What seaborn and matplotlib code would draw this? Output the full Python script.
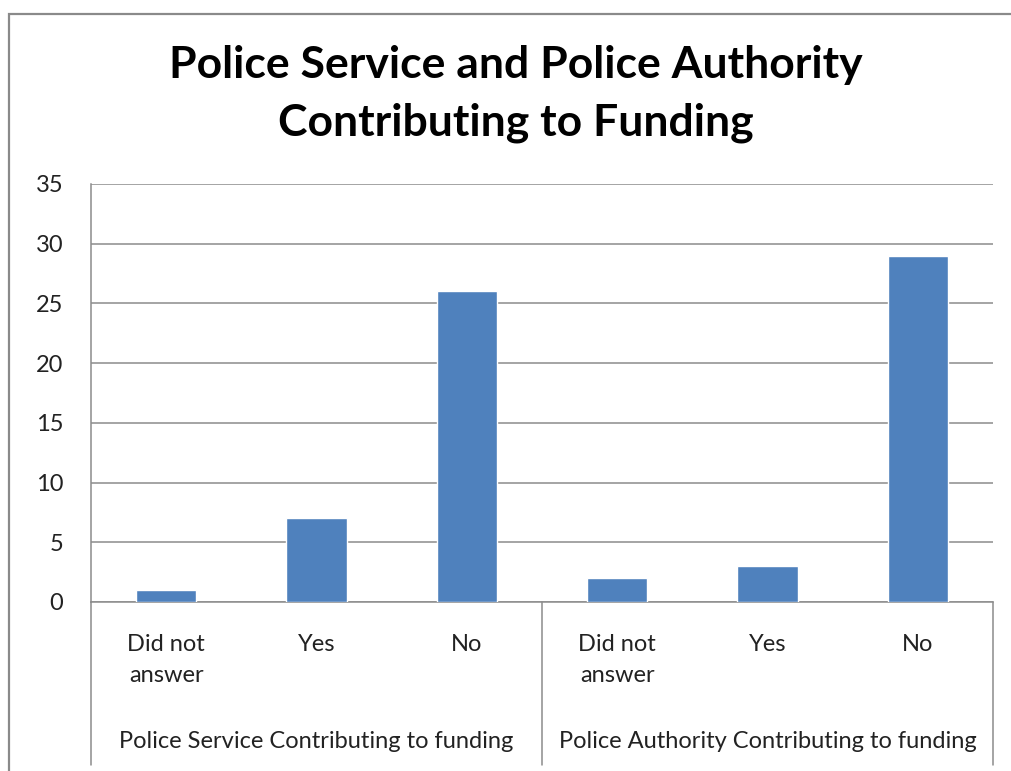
import matplotlib
matplotlib.use("Agg")
import matplotlib.pyplot as plt
import matplotlib.transforms as mtransforms
import seaborn as sns
import pandas as pd

# Survey responses, two question groups of three answers each
groups = ["Police Service Contributing to funding",
          "Police Authority Contributing to funding"]
answers = ["Did not\nanswer", "Yes", "No"]
service_counts = [1, 7, 26]
authority_counts = [2, 3, 29]
y_ticks = [0, 5, 10, 15, 20, 25, 30, 35]

labels = [f"{g}|{a}" for g in groups for a in answers]
df = pd.DataFrame({"label": labels, "count": service_counts + authority_counts})

sns.set_theme(style="white")
plt.rcParams["font.family"] = ["Lato", "DejaVu Sans"]

fig = plt.figure(figsize=(10.12, 7.71), dpi=100)
W, H = 1012, 771
ax = fig.add_axes([91 / W, 1 - 602 / H, (993 - 91) / W, (602 - 184) / H])

bar_color = "#4F81BD"
sns.barplot(data=df, x="label", y="count", color=bar_color, width=0.4,
            saturation=1, ax=ax, zorder=3)

ax.set_xlim(-0.5, 5.5)
ax.set_ylim(0, 35)
ax.set_yticks(y_ticks)
ax.set_yticklabels([str(t) for t in y_ticks], fontsize=17, color="#222222")
ax.tick_params(axis="y", length=0, pad=20)
ax.set_xticks([])
ax.set_xlabel("")
ax.set_ylabel("")

grid_color = "#8c8c8c"
ax.yaxis.grid(True, color=grid_color, linewidth=1.1, zorder=0)
for side in ["top", "right"]:
    ax.spines[side].set_visible(False)
ax.spines["left"].set_color(grid_color)
ax.spines["bottom"].set_color(grid_color)
ax.spines["left"].set_linewidth(1.1)
ax.spines["bottom"].set_linewidth(1.1)

# Multi-level category axis below the plot
trans = mtransforms.blended_transform_factory(ax.transData, ax.transAxes)
px = 1.0 / (602 - 184)  # one pixel in axes fraction
for i, lab in enumerate(answers * 2):
    ax.text(i, -(634 - 602) * px, lab, transform=trans, ha="center", va="top",
            fontsize=17, color="#222222", linespacing=1.6, clip_on=False)
for g, name in enumerate(groups):
    ax.text(g * 3 + 1, -(742 - 602) * px, name, transform=trans, ha="center",
            va="center", fontsize=17, color="#222222", clip_on=False)
for xb in [-0.5, 2.5, 5.5]:
    ax.plot([xb, xb], [0, -(765 - 602) * px], transform=trans, color=grid_color,
            linewidth=1.1, clip_on=False)

# Outer chart frame
frame = plt.Rectangle((9.5 / W, -0.1), 1.2, 1 - 13.5 / H + 0.1, transform=fig.transFigure,
                      fill=False, edgecolor="#8a8a8a", linewidth=1.6)
fig.patches.append(frame)

fig.text(516 / W, 1 - 94 / H,
         "Police Service and Police Authority\nContributing to Funding",
         ha="center", va="center", fontsize=32, fontweight="bold",
         color="black", linespacing=1.55)

fig.savefig("out.png", dpi=100)
